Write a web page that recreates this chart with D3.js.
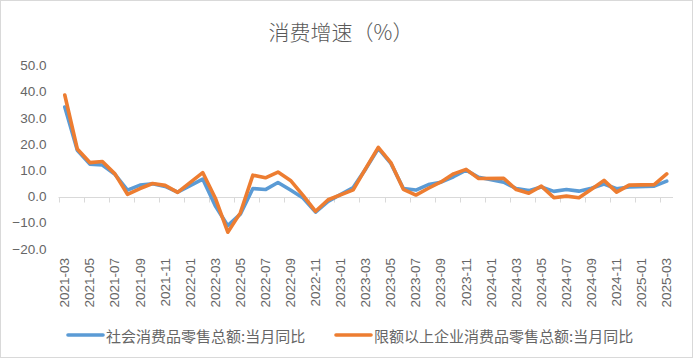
<!DOCTYPE html>
<html><head><meta charset="utf-8">
<script src="https://cdn.jsdelivr.net/npm/d3@7"></script>
<style>
html,body{margin:0;padding:0;background:#fff;}
svg{display:block;}
</style></head>
<body>
<svg id="chart" width="694" height="359"></svg>
<script>
const months = ["2021-03","2021-04","2021-05","2021-06","2021-07","2021-08","2021-09","2021-10","2021-11","2021-12",
"2022-01","2022-02","2022-03","2022-04","2022-05","2022-06","2022-07","2022-08","2022-09","2022-10","2022-11","2022-12",
"2023-01","2023-02","2023-03","2023-04","2023-05","2023-06","2023-07","2023-08","2023-09","2023-10","2023-11","2023-12",
"2024-01","2024-02","2024-03","2024-04","2024-05","2024-06","2024-07","2024-08","2024-09","2024-10","2024-11","2024-12",
"2025-01","2025-02","2025-03"];
const retailTotal = [34.2,17.7,12.4,12.1,8.5,2.5,4.4,4.9,3.9,1.7,
null,6.7,-3.5,-11.1,-6.7,3.1,2.7,5.4,2.5,-0.5,-5.9,-1.8,
null,3.5,10.6,18.4,12.7,3.1,2.5,4.6,5.5,7.6,10.1,7.4,
null,5.5,3.1,2.3,3.7,2.0,2.7,2.1,3.2,4.8,3.0,3.7,
null,4.0,5.9];
const retailAbove = [38.8,18.2,13.0,13.4,8.7,0.9,3.1,5.0,4.3,1.6,
null,9.2,-0.5,-13.6,-6.2,8.2,7.2,9.4,6.2,0.5,-5.6,-1.2,
null,2.6,10.8,18.8,13.0,2.8,0.6,3.2,5.6,8.7,10.4,6.9,
null,7.0,2.7,1.3,4.0,-0.4,0.2,-0.4,2.8,6.2,1.7,4.4,
null,4.6,8.7];
const yTicks = [50,40,30,20,10,0,-10,-20];
const seriesNames = ["社会消费品零售总额:当月同比","限额以上企业消费品零售总额:当月同比"];
const colors = ["#5B9BD5","#ED7D31"];
const title = "消费增速（%）";

const svg = d3.select("#chart");
const cjk = "'Noto Sans CJK SC','Noto Sans',sans-serif";
const num = "'Liberation Sans','DejaVu Sans',sans-serif";

svg.append("rect").attr("x",0.5).attr("y",0.5).attr("width",692).attr("height",357)
  .attr("fill","#fff").attr("stroke","#d9d9d9");

svg.append("text").attr("x",341).attr("y",31).attr("text-anchor","middle").attr("dominant-baseline","central")
  .attr("font-family",cjk).attr("font-size",21).attr("font-weight",300).attr("fill","#595959").text(title);

const x = d3.scaleBand().domain(months).range([58.5, 673]).padding(0);
const y = d3.scaleLinear().domain([-20,50]).range([249,65.7]);
const cx = d => x(d) + x.bandwidth()/2;

// y tick labels
svg.append("g").selectAll("text").data(yTicks).join("text")
  .attr("x",46.5).attr("y",d=>y(d)).attr("text-anchor","end").attr("dominant-baseline","central")
  .attr("font-family",num).attr("font-size",13.5).attr("fill","#666")
  .text(d=>d3.format(".1f")(d));

// zero axis line
const y0 = Math.round(y(0))+0.5;
svg.append("line").attr("x1",x.range()[0]).attr("x2",x.range()[1]).attr("y1",y0).attr("y2",y0)
  .attr("stroke","#d9d9d9").attr("stroke-width",1);
const tickMonths = months.filter((m,i)=>i%2===0);
svg.append("g").selectAll("line").data(tickMonths).join("line")
  .attr("x1",d=>Math.round(x(d))+0.5).attr("x2",d=>Math.round(x(d))+0.5)
  .attr("y1",y0).attr("y2",y0+5).attr("stroke","#d9d9d9");

// x labels
svg.append("g").selectAll("text").data(tickMonths).join("text")
  .attr("transform",d=>`translate(${cx(d)},258) rotate(-90)`)
  .attr("text-anchor","end").attr("dominant-baseline","central")
  .attr("font-family",num).attr("font-size",13.5).attr("fill","#666")
  .text(d=>d);

// lines
const makeData = arr => months.map((m,i)=>({m, v:arr[i]})).filter(d=>d.v!==null);
const line = d3.line().x(d=>cx(d.m)).y(d=>y(d.v));
[retailTotal, retailAbove].forEach((arr,i)=>{
  svg.append("path").datum(makeData(arr)).attr("d",line)
    .attr("fill","none").attr("stroke",colors[i]).attr("stroke-width",3.6)
    .attr("stroke-linejoin","round").attr("stroke-linecap","round");
});

// legend
const legendPos = [68, 336];
seriesNames.forEach((n,i)=>{
  const lx = legendPos[i];
  svg.append("line").attr("x1",lx).attr("x2",lx+35).attr("y1",335).attr("y2",335)
    .attr("stroke",colors[i]).attr("stroke-width",3.6).attr("stroke-linecap","round");
  svg.append("text").attr("x",lx+38).attr("y",335).attr("dominant-baseline","central")
    .attr("font-family",cjk).attr("font-size",15).attr("fill","#666").text(n);
});
</script>
</body></html>
